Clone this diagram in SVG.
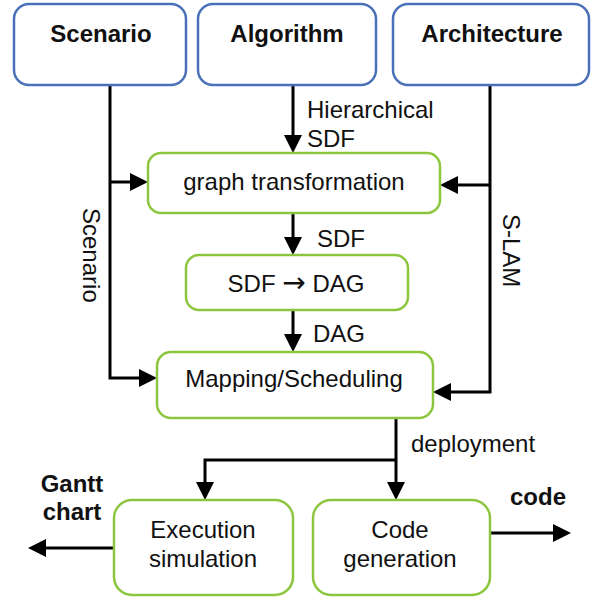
<svg xmlns="http://www.w3.org/2000/svg" width="591" height="598" viewBox="0 0 591 598">
<style>
.top{fill:#fff;stroke:#4a70b8;stroke-width:2.5}
.box{fill:#fff;stroke:#8cc63e;stroke-width:2.5}
.t{font-family:"Liberation Sans",Arial,sans-serif;font-size:24px;fill:#111}
.b{font-family:"Liberation Sans",Arial,sans-serif;font-size:24px;font-weight:bold;fill:#111}
.c{stroke:#000;stroke-width:3;fill:none;marker-end:url(#ah)}
.ar{font-family:"DejaVu Sans",sans-serif;font-size:28px}
</style>
<defs>
<marker id="ah" viewBox="0 0 18 18" markerWidth="18" markerHeight="18" refX="14" refY="9" orient="auto" markerUnits="userSpaceOnUse">
<path d="M0,0 L18,9 L0,18 z" fill="#000"/>
</marker>
</defs>
<g id="connectors">
<path class="c" d="M110,85 V378 H153"/>
<path class="c" d="M110,182 H144"/>
<path class="c" d="M293,85 V149"/>
<path class="c" d="M490,85 V392 H437"/>
<path class="c" d="M490,185 H444"/>
<path class="c" d="M293,213 V251"/>
<path class="c" d="M293,310 V348"/>
<path class="c" d="M396,418 V496"/>
<path class="c" d="M396,460 H205 V496"/>
<path class="c" d="M114,548 H32"/>
<path class="c" d="M490,533 H567"/>
<text class="t" x="307" y="118">Hierarchical</text>
<text class="t" x="307" y="147">SDF</text>
<text class="t" x="317" y="247">SDF</text>
<text class="t" x="313" y="342">DAG</text>
<text class="t" x="411" y="452">deployment</text>
<text class="t" transform="translate(83,208) rotate(90)">Scenario</text>
<text class="t" transform="translate(503,214) rotate(90)">S-LAM</text>
<text class="b" x="72" y="492" text-anchor="middle">Gantt</text>
<text class="b" x="72" y="520" text-anchor="middle">chart</text>
<text class="b" x="538" y="505" text-anchor="middle">code</text>
</g>
<g id="scenario">
<rect class="top" x="14" y="4" width="172" height="81" rx="15"/>
<text class="b" x="101" y="42" text-anchor="middle">Scenario</text>
</g>
<g id="algorithm">
<rect class="top" x="198" y="4" width="178" height="81" rx="15"/>
<text class="b" x="287" y="42" text-anchor="middle">Algorithm</text>
</g>
<g id="architecture">
<rect class="top" x="393" y="4" width="196" height="81" rx="15"/>
<text class="b" x="492" y="42" text-anchor="middle">Architecture</text>
</g>
<g id="graph-transformation">
<rect class="box" x="148" y="153" width="292" height="60" rx="13"/>
<text class="t" x="294" y="190" text-anchor="middle">graph transformation</text>
</g>
<g id="sdf-dag">
<rect class="box" x="186" y="255" width="222" height="55" rx="13"/>
<text class="t" x="296" y="292" text-anchor="middle">SDF <tspan class="ar">→</tspan> DAG</text>
</g>
<g id="mapping">
<rect class="box" x="157" y="352" width="276" height="66" rx="14"/>
<text class="t" x="294" y="387" text-anchor="middle">Mapping/Scheduling</text>
</g>
<g id="execution">
<rect class="box" x="114" y="500" width="179" height="95" rx="18"/>
<text class="t" x="203" y="538" text-anchor="middle">Execution</text>
<text class="t" x="203" y="567" text-anchor="middle">simulation</text>
</g>
<g id="codegen">
<rect class="box" x="313" y="500" width="177" height="95" rx="18"/>
<text class="t" x="400" y="538" text-anchor="middle">Code</text>
<text class="t" x="400" y="567" text-anchor="middle">generation</text>
</g>
</svg>
